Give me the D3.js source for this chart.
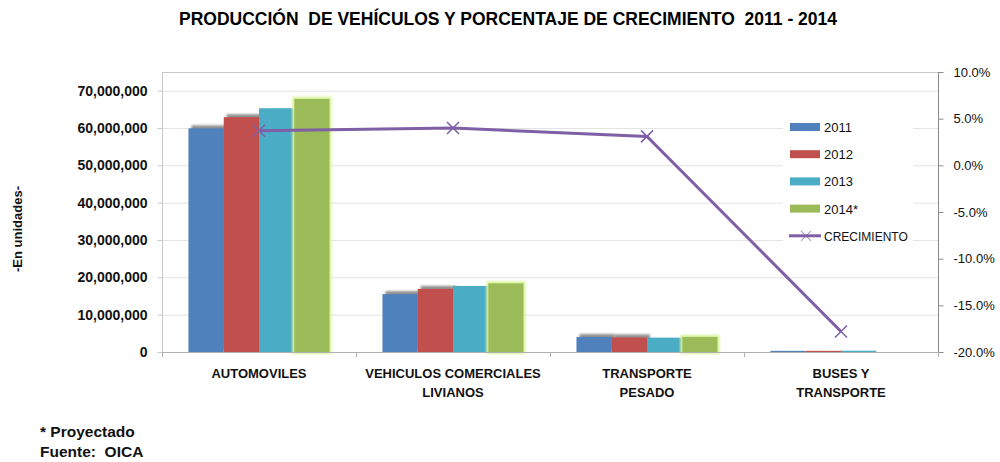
<!DOCTYPE html>
<html>
<head>
<meta charset="utf-8">
<script src="https://cdn.jsdelivr.net/npm/d3@7"></script>
<style>
  body { margin: 0; background: #fff; }
  svg { display: block; font-family: "Liberation Sans", Arial, sans-serif; }
  svg text { white-space: pre; }
</style>
</head>
<body>
<svg id="chart" width="1000" height="462"></svg>
<script>
"use strict";

// datos
var categories = [["AUTOMOVILES"], ["VEHICULOS COMERCIALES", "LIVIANOS"], ["TRANSPORTE", "PESADO"], ["BUSES Y", "TRANSPORTE"]];
var years = ["2011", "2012", "2013", "2014*"];
var v2011 = [59900000, 15500000, 4000000, 300000];
var v2012 = [62900000, 16900000, 3900000, 300000];
var v2013 = [65300000, 17700000, 3850000, 350000];
var v2014 = [67800000, 18400000, 4050000, 0];
var crecimiento = [3.7, 4.0, 3.1, -17.8];
var leftTicks = [0, 10e6, 20e6, 30e6, 40e6, 50e6, 60e6, 70e6];
var rightTicks = [-20, -15, -10, -5, 0, 5, 10];

var colors = ["#4f81bd", "#c0504d", "#4bacc6", "#9bbb59"];
var purple = "#7f5fa6";
var series = [v2011, v2012, v2013, v2014];

var svg = d3.select("#chart");
var pLeft = 162, pRight = 938, pTop = 72, pBottom = 352;

var defs = svg.append("defs");
var sh = defs.append("filter").attr("id", "shadow").attr("x", "-20%").attr("y", "-50%").attr("width", "140%").attr("height", "200%");
sh.append("feDropShadow").attr("dx", 3).attr("dy", -3).attr("stdDeviation", 1.3)
  .attr("flood-color", "#444").attr("flood-opacity", 0.6);
var glow = defs.append("filter").attr("id", "glow").attr("x", "-20%").attr("y", "-20%").attr("width", "140%").attr("height", "140%");
glow.append("feMorphology").attr("in", "SourceAlpha").attr("operator", "dilate").attr("radius", 1.5).attr("result", "d");
glow.append("feGaussianBlur").attr("in", "d").attr("stdDeviation", 1).attr("result", "b");
glow.append("feFlood").attr("flood-color", "#d9f59a");
glow.append("feComposite").attr("in2", "b").attr("operator", "in").attr("result", "g");
var gm = glow.append("feMerge");
gm.append("feMergeNode").attr("in", "g");
gm.append("feMergeNode").attr("in", "SourceGraphic");

var x0 = d3.scaleBand().domain(d3.range(categories.length)).range([pLeft, pRight]);
var x1 = d3.scaleBand().domain(d3.range(years.length)).range([0, x0.bandwidth()]).paddingOuter(0.75).paddingInner(0);
var y = d3.scaleLinear().domain([0, 75e6]).range([pBottom, pTop]);
var y2 = d3.scaleLinear().domain([-20, 10]).range([pBottom, pTop]);

// titulo
svg.append("text").attr("x", 508).attr("y", 25).attr("text-anchor", "middle")
  .attr("font-weight", "bold").attr("font-size", 17.5).attr("fill", "#000")
  .text("PRODUCCIÓN  DE VEHÍCULOS Y PORCENTAJE DE CRECIMIENTO  2011 - 2014");

// lineas de cuadricula
svg.append("g").selectAll("line").data(leftTicks.slice(1)).enter().append("line")
  .attr("x1", pLeft).attr("x2", pRight).attr("y1", function (d) { return y(d) + 0.5; }).attr("y2", function (d) { return y(d) + 0.5; })
  .attr("stroke", "#e3e3e3").attr("stroke-width", 1);
svg.append("line").attr("x1", pLeft).attr("x2", pRight).attr("y1", pTop + 0.5).attr("y2", pTop + 0.5)
  .attr("stroke", "#c8c8c8");

// eje izquierdo
var yAxis = svg.append("g").attr("transform", "translate(" + (pLeft + 0.5) + ",0)")
  .call(d3.axisLeft(y).tickValues(leftTicks).tickSize(5).tickPadding(10).tickFormat(d3.format(",")));
yAxis.select(".domain").attr("stroke", "#c8c8c8").attr("d", "M0," + pTop + "V" + pBottom);
yAxis.selectAll(".tick line").attr("stroke", "#c8c8c8");
yAxis.selectAll("text").attr("font-weight", "bold").attr("font-size", 14).attr("fill", "#111")
  .attr("font-family", "Liberation Sans");

// eje derecho
var y2Axis = svg.append("g").attr("transform", "translate(" + (pRight + 0.5) + ",0)")
  .call(d3.axisRight(y2).tickValues(rightTicks).tickSize(5).tickPadding(10).tickFormat(function (d) { return d.toFixed(1) + "%"; }));
y2Axis.select(".domain").attr("stroke", "#8a8a8a").attr("d", "M0," + pTop + "V" + pBottom);
y2Axis.selectAll(".tick line").attr("stroke", "#8a8a8a");
y2Axis.selectAll("text").attr("font-size", 13).attr("fill", "#111").attr("font-family", "Liberation Sans");

// barras
series.forEach(function (vals, si) {
  svg.append("g").selectAll("rect").data(vals).enter().append("rect")
    .attr("x", function (d, i) { return x0(i) + x1(si); })
    .attr("width", x1.bandwidth())
    .attr("y", function (d) { return y(d); })
    .attr("height", function (d) { return pBottom - y(d); })
    .attr("fill", colors[si])
    .attr("filter", si < 2 ? "url(#shadow)" : (si === 3 ? "url(#glow)" : null))
    .style("display", function (d) { return d > 0 ? null : "none"; });
});

// eje inferior
svg.append("line").attr("x1", pLeft).attr("x2", pRight).attr("y1", pBottom + 0.5).attr("y2", pBottom + 0.5).attr("stroke", "#b0b0b0");
svg.append("g").selectAll("line").data(d3.range(categories.length + 1)).enter().append("line")
  .attr("x1", function (d) { return pLeft + d * x0.bandwidth() + 0.5; })
  .attr("x2", function (d) { return pLeft + d * x0.bandwidth() + 0.5; })
  .attr("y1", pBottom).attr("y2", pBottom + 5).attr("stroke", "#b0b0b0");

var xl = svg.append("g").selectAll("text").data(categories).enter().append("text")
  .attr("text-anchor", "middle").attr("font-weight", "bold").attr("font-size", 13).attr("fill", "#111");
xl.each(function (lines, i) {
  var t = d3.select(this);
  lines.forEach(function (l, k) {
    t.append("tspan").attr("x", x0(i) + x0.bandwidth() / 2).attr("y", 378 + k * 19).text(l);
  });
});

// linea de crecimiento
var pts = crecimiento.map(function (d, i) { return [x0(i) + x0.bandwidth() / 2, y2(d)]; });
svg.append("path").attr("d", d3.line()(pts)).attr("fill", "none").attr("stroke", purple).attr("stroke-width", 3);
svg.append("g").selectAll("path").data(pts).enter().append("path")
  .attr("d", function (p) { var s = 6; return "M" + (p[0] - s) + "," + (p[1] - s) + "L" + (p[0] + s) + "," + (p[1] + s) + "M" + (p[0] - s) + "," + (p[1] + s) + "L" + (p[0] + s) + "," + (p[1] - s); })
  .attr("stroke", purple).attr("stroke-width", 1.5).attr("fill", "none");

// leyenda
var lg = svg.append("g");
lg.append("rect").attr("x", 783).attr("y", 110).attr("width", 130).attr("height", 140).attr("fill", "#fff");
years.forEach(function (yr, i) {
  var yy = 127 + i * 27.2;
  lg.append("rect").attr("x", 790).attr("y", yy - 4).attr("width", 30).attr("height", 8).attr("fill", colors[i]);
  lg.append("text").attr("x", 824).attr("y", yy + 5).attr("font-size", 13).attr("fill", "#111").text(yr);
});
var ly = 127 + 4 * 27.2;
lg.append("line").attr("x1", 789).attr("x2", 821).attr("y1", ly).attr("y2", ly).attr("stroke", purple).attr("stroke-width", 3);
lg.append("path").attr("d", "M801," + (ly - 5) + "L811," + (ly + 5) + "M801," + (ly + 5) + "L811," + (ly - 5))
  .attr("stroke", purple).attr("stroke-opacity", 0.6).attr("stroke-width", 1.2);
lg.append("text").attr("x", 824).attr("y", ly + 5).attr("font-size", 12).attr("fill", "#111").text("CRECIMIENTO");

// titulo eje y
svg.append("text").attr("transform", "translate(22,229) rotate(-90)").attr("text-anchor", "middle")
  .attr("font-weight", "bold").attr("font-size", 13).attr("fill", "#111").text("-En unidades-");

// notas
svg.append("text").attr("x", 40).attr("y", 437).attr("font-weight", "bold").attr("font-size", 15.5).attr("fill", "#111").text("* Proyectado");
svg.append("text").attr("x", 40).attr("y", 457).attr("font-weight", "bold").attr("font-size", 15.5).attr("fill", "#111").text("Fuente:  OICA");
</script>
</body>
</html>
